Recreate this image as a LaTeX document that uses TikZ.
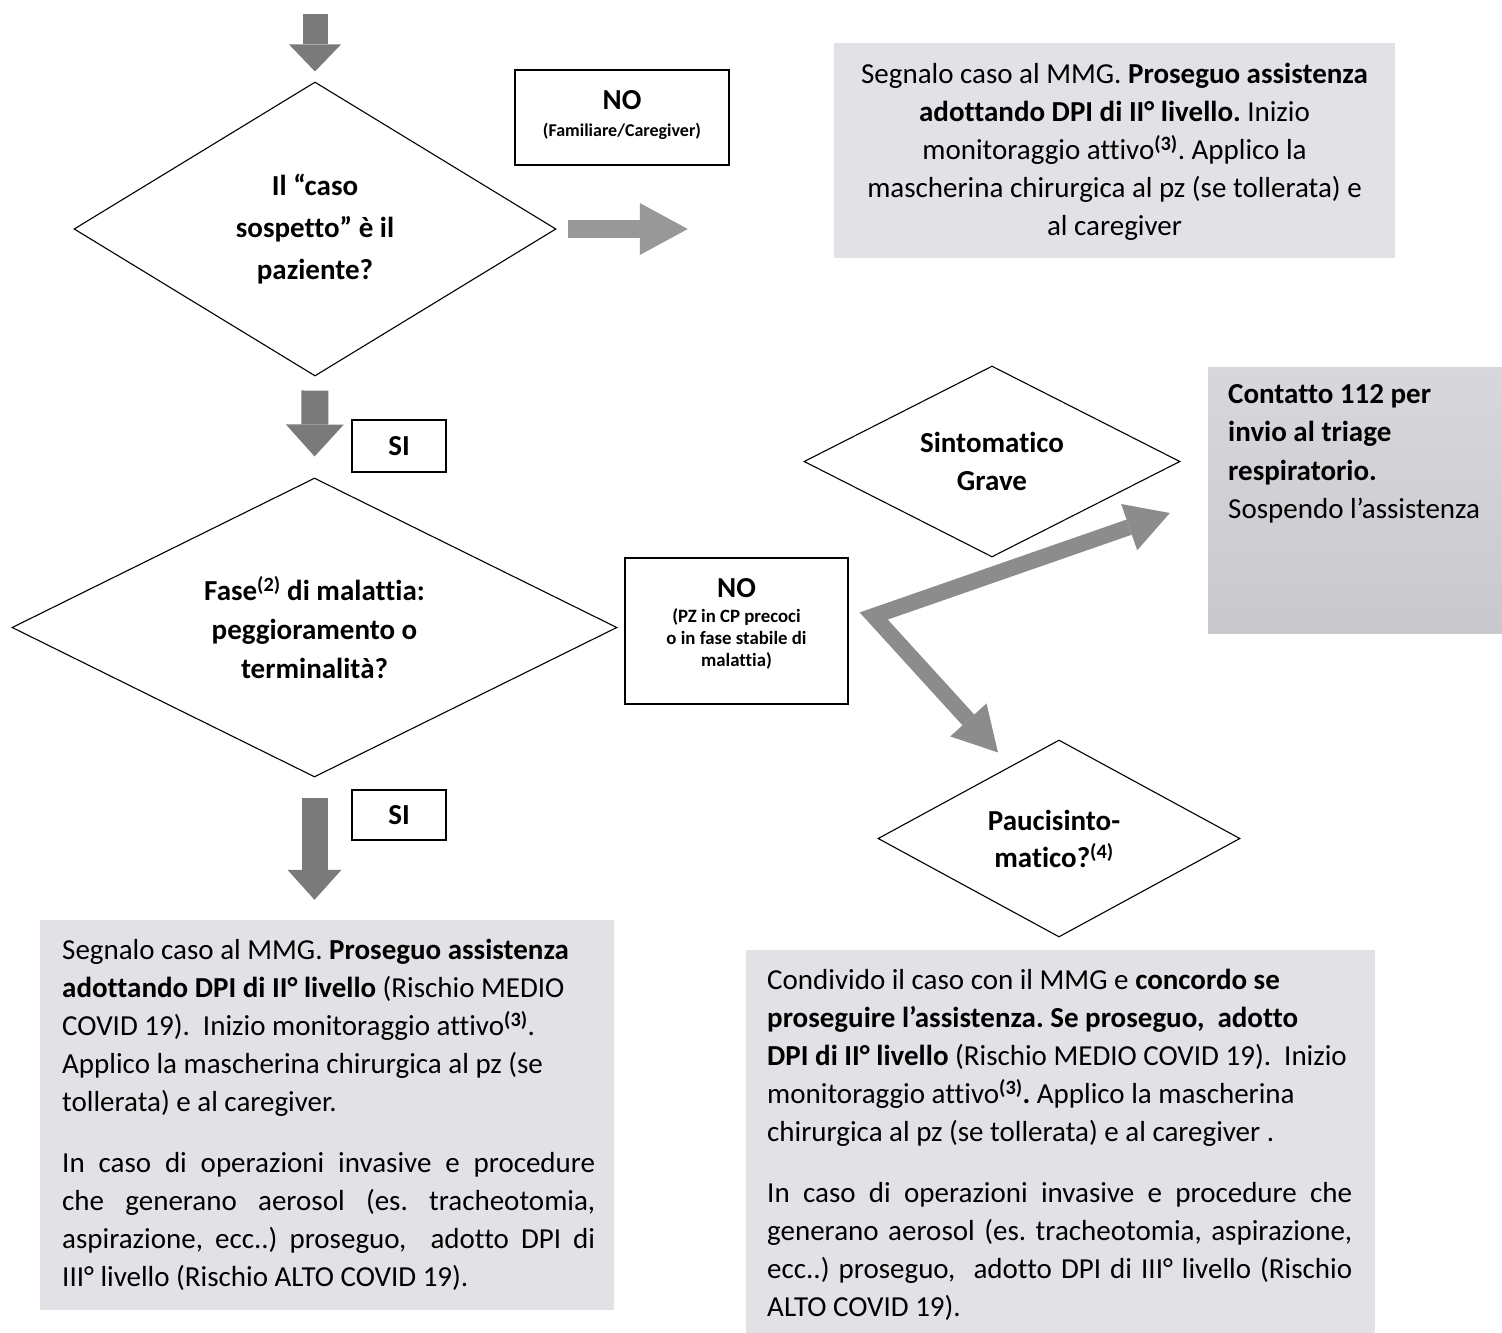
\documentclass[tikz,border=0pt]{standalone}
\usepackage{fontspec}
\setmainfont{Carlito}[Ligatures={NoCommon}]
\usetikzlibrary{shapes.geometric,arrows.meta,calc}
\definecolor{boxgray}{RGB}{226,226,230}
\definecolor{boxgrayT}{RGB}{216,216,220}
\definecolor{boxgrayB}{RGB}{200,200,205}
\definecolor{arrgray}{RGB}{122,122,122}
\definecolor{arrlight}{RGB}{152,152,152}
\definecolor{arrmid}{RGB}{140,140,140}
\newcommand{\bigf}{\fontsize{29}{38}\selectfont}
\newcommand{\smallf}{\fontsize{18.8}{22}\selectfont}
\newcommand{\sups}[1]{\textsuperscript{\textbf{#1}}}
\begin{document}
\frenchspacing
\begin{tikzpicture}[x=1pt,y=-1pt,
  decision/.style={diamond, draw=black, line width=1.1pt, fill=white, inner sep=0pt, align=center},
  lbox/.style={rectangle, draw=black, line width=1.4pt, fill=white, inner sep=0pt, align=center},
  ltext/.style={inner sep=0pt, align=center},
  gbox/.style={rectangle, fill=boxgray, draw=none, inner sep=0pt},
  btext/.style={inner sep=0pt, anchor=north west, align=left, font=\bigf},
  vblock/.style={draw=arrgray, line width=26pt},
]
\fill[white] (0,0) rectangle (1502,1333);
\useasboundingbox (0,0) rectangle (1502,1333);

% gray boxes
\node[gbox, minimum width=561pt, minimum height=215pt] (g1) at (1114.5,150.5) {};
\node[gbox, minimum width=294pt, minimum height=266pt, top color=boxgrayT, bottom color=boxgrayB] (g2) at (1355,500) {};
\node[gbox, minimum width=574pt, minimum height=390pt] (g3) at (327,1115) {};
\node[gbox, minimum width=629pt, minimum height=383pt] (g4) at (1060.5,1141.5) {};

% texts of gray boxes
\node[inner sep=0pt, align=center, font=\bigf] (g1t) at (1114.5,152) {\strut Segnalo caso al MMG. \textbf{Proseguo assistenza}\\
\strut\textbf{adottando DPI di II° livello.} Inizio\\
\strut monitoraggio attivo\sups{(3)}. Applico la\\
\strut mascherina chirurgica al pz (se tollerata) e\\
\strut al caregiver};

\node[btext, font=\fontsize{29}{38.5}\selectfont] (g2t) at (1228,376) {\strut\textbf{Contatto 112 per}\\
\strut\textbf{invio al triage}\\
\strut\textbf{respiratorio.}\\
\strut Sospendo l’assistenza};

\node[btext] (g3t) at (62,933) {\strut Segnalo caso al MMG. \textbf{Proseguo assistenza}\\
\strut\textbf{adottando DPI di II° livello} (Rischio MEDIO\\
\strut COVID 19).\ \ Inizio monitoraggio attivo\sups{(3)}.\\
\strut Applico la mascherina chirurgica al pz (se\\
\strut tollerata) e al caregiver.\\[23pt]
\strut\makebox[533pt][s]{In caso di operazioni invasive e procedure}\\
\strut\makebox[533pt][s]{che generano aerosol (es. tracheotomia,}\\
\strut\makebox[533pt][s]{aspirazione, ecc..) proseguo,\ \ adotto DPI di}\\
\strut III° livello (Rischio ALTO COVID 19).};

\node[btext] (g4t) at (767,963) {\strut Condivido il caso con il MMG e \textbf{concordo se}\\
\strut\textbf{proseguire l’assistenza. Se proseguo,\ \ adotto}\\
\strut\textbf{DPI di II° livello} (Rischio MEDIO COVID 19).\ \ Inizio\\
\strut monitoraggio attivo\sups{(3)}\textbf{.} Applico la mascherina\\
\strut chirurgica al pz (se tollerata) e al caregiver .\\[23pt]
\strut\makebox[585pt][s]{In caso di operazioni invasive e procedure che}\\
\strut\makebox[585pt][s]{generano aerosol (es. tracheotomia, aspirazione,}\\
\strut\makebox[585pt][s]{ecc..) proseguo,\ \ adotto DPI di III° livello (Rischio}\\
\strut ALTO COVID 19).};

% decisions
\node[decision, minimum width=482pt, minimum height=294pt, aspect=1.64, font=\fontsize{29}{42}\selectfont\bfseries] (d1) at (315,229) {Il “caso\\sospetto” è il\\paziente?};
\node[decision, minimum width=605pt, minimum height=299pt, aspect=2.02, font=\fontsize{29}{39}\selectfont\bfseries] (d2) at (314.5,627.5) {Fase\sups{(2)} di malattia:\\peggioramento o\\terminalità?};
\node[decision, minimum width=376pt, minimum height=191pt, aspect=1.97, font=\fontsize{29}{38}\selectfont\bfseries] (d3) at (992,461.5) {Sintomatico\\Grave};
\node[decision, minimum width=362pt, minimum height=197pt, aspect=1.84, font=\fontsize{29}{37}\selectfont\bfseries] (d4) at (1059,838.5) {Paucisinto-\hspace*{10pt}\\matico?\sups{(4)}\hspace*{10pt}};

% label boxes
\node[lbox, minimum width=214pt, minimum height=95pt] (no1) at (622,117.5) {};
\node[ltext, font=\fontsize{18}{27}\selectfont\bfseries] (no1t) at ($(no1.center)+(0,-2)$) {{\fontsize{29}{29}\selectfont NO}\\(Familiare/Caregiver)};
\node[lbox, minimum width=94pt, minimum height=52pt, font=\fontsize{29}{38}\selectfont\bfseries] (si1) at (399,446) {SI};
\node[lbox, minimum width=223pt, minimum height=146pt] (no2) at (736.5,631) {};
\node[ltext, font=\smallf\bfseries] (no2t) at ($(no2.center)+(0,-7)$) {{\fontsize{29}{29}\selectfont NO}\\[3pt](PZ in CP precoci\\o in fase stabile di\\malattia)};
\node[lbox, minimum width=94pt, minimum height=50pt, font=\fontsize{29}{38}\selectfont\bfseries] (si2) at (399,815) {SI};

% block arrows
\coordinate (start) at (315,14);
\draw[vblock, line width=25pt, -{Triangle[width=52pt,length=27pt,line width=0pt]}, shorten >=10pt] (start) -- (d1.north);
\draw[vblock, line width=27pt, -{Triangle[width=58pt,length=32pt,line width=0pt]}, shorten <=14pt, shorten >=21pt] (d1.south) -- (d2.north);
\draw[vblock, line width=26pt, -{Triangle[width=54pt,length=30pt,line width=0pt]}, shorten <=20pt, shorten >=20pt] (d2.south) -- (d2.south |- g3.north);
\draw[draw=arrlight, line width=18pt, -{Triangle[width=52pt,length=48pt,line width=0pt]}, shorten <=11pt, shorten >=146pt] (d1.east) -- (g1.west |- d1.east);

\coordinate (v) at ($(no2.east)+(25,-15)$);
\coordinate (tipU) at ($(g2.west)+(-38,13)$);
\coordinate (tipL) at ($(d4.north)+(-61,13)$);
\draw[draw=arrmid, line width=16pt, line join=miter, {Triangle[width=49pt,length=43pt,line width=0pt]}-{Triangle[width=49pt,length=44pt,line width=0pt]}] (tipU) -- (v) -- (tipL);
\end{tikzpicture}
\end{document}
